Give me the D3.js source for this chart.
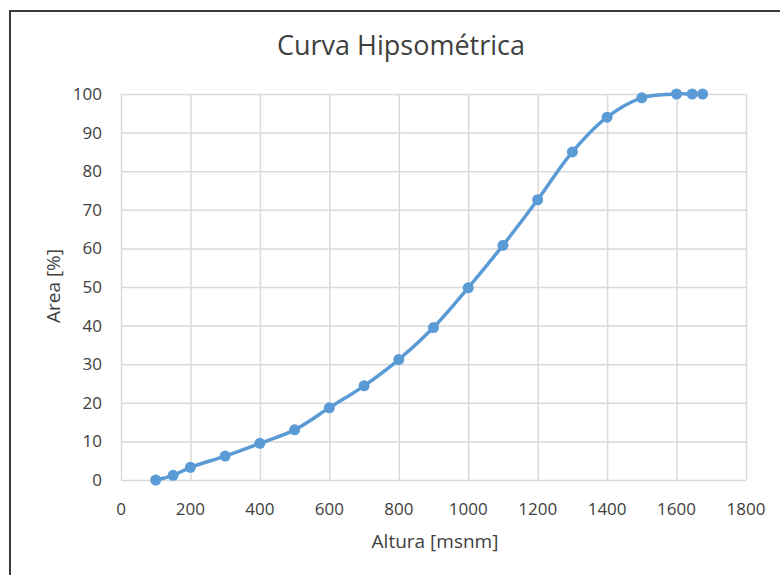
<!DOCTYPE html>
<html>
<head>
<meta charset="utf-8">
<script src="https://cdn.jsdelivr.net/npm/d3@7"></script>
<style>
  body { margin: 0; background: #fff; }
  svg text { font-family: "Open Sans", "Noto Sans", sans-serif; fill: #404040; }
</style>
</head>
<body>
<svg id="chart" width="780" height="575"></svg>
<script>
// datos
var altura = [100, 150, 200, 300, 400, 500, 600, 700, 800, 900, 1000, 1100, 1200, 1300, 1400, 1500, 1600, 1645, 1675];
var area = [0, 1.2, 3.3, 6.2, 9.5, 13, 18.7, 24.4, 31.2, 39.5, 49.8, 60.8, 72.6, 85, 94, 99, 100, 100, 100];
var xTicks = [0, 200, 400, 600, 800, 1000, 1200, 1400, 1600, 1800];
var yTicks = [0, 10, 20, 30, 40, 50, 60, 70, 80, 90, 100];

var svg = d3.select("#chart");
var plotL = 121, plotR = 746, plotT = 94, plotB = 480;

var x = d3.scaleLinear().domain([0, 1800]).range([plotL, plotR]);
var y = d3.scaleLinear().domain([0, 100]).range([plotB, plotT]);

// marco
svg.append("path")
  .attr("d", "M10,575 L10,11 L780,11")
  .style("fill", "none")
  .style("stroke", "#3a3a3a")
  .style("stroke-width", 2);

// grilla vertical
svg.append("g")
  .attr("transform", "translate(0," + plotB + ")")
  .call(d3.axisBottom(x).tickValues(xTicks).tickSize(-(plotB - plotT)).tickFormat(""))
  .call(function (g) {
    g.select(".domain").remove();
    g.selectAll("line").style("stroke", "#d9d9d9").style("stroke-width", 1.5);
  });

// grilla horizontal
svg.append("g")
  .attr("transform", "translate(" + plotL + ",0)")
  .call(d3.axisLeft(y).tickValues(yTicks).tickSize(-(plotR - plotL)).tickFormat(""))
  .call(function (g) {
    g.select(".domain").remove();
    g.selectAll("line").style("stroke", "#d9d9d9").style("stroke-width", 1.5);
  });

// etiquetas eje x
svg.append("g")
  .selectAll("text")
  .data(xTicks)
  .enter()
  .append("text")
  .attr("x", function (d) { return x(d); })
  .attr("y", plotB + 35)
  .attr("text-anchor", "middle")
  .style("font-size", "17px")
  .text(function (d) { return d; });

// etiquetas eje y
svg.append("g")
  .selectAll("text")
  .data(yTicks)
  .enter()
  .append("text")
  .attr("x", plotL - 19)
  .attr("y", function (d) { return y(d) + 6; })
  .attr("text-anchor", "end")
  .style("font-size", "17px")
  .text(function (d) { return d; });

// curva suavizada
var line = d3.line()
  .x(function (d, i) { return x(altura[i]); })
  .y(function (d) { return y(d); })
  .curve(d3.curveCatmullRom.alpha(0.5));

svg.append("path")
  .datum(area)
  .attr("d", line)
  .style("fill", "none")
  .style("stroke", "#5B9BD5")
  .style("stroke-width", 3.5)
  .style("stroke-linejoin", "round");

svg.append("g")
  .selectAll("circle")
  .data(area)
  .enter()
  .append("circle")
  .attr("cx", function (d, i) { return x(altura[i]); })
  .attr("cy", function (d) { return y(d); })
  .attr("r", 5.5)
  .style("fill", "#5B9BD5");

// titulos
svg.append("text")
  .attr("x", 401)
  .attr("y", 55)
  .attr("text-anchor", "middle")
  .style("font-size", "27px")
  .text("Curva Hipsométrica");

svg.append("text")
  .attr("x", 435)
  .attr("y", 548)
  .attr("text-anchor", "middle")
  .style("font-size", "19px")
  .text("Altura [msnm]");

svg.append("text")
  .attr("transform", "translate(60,286) rotate(-90)")
  .attr("text-anchor", "middle")
  .style("font-size", "19px")
  .text("Area [%]");
</script>
</body>
</html>
